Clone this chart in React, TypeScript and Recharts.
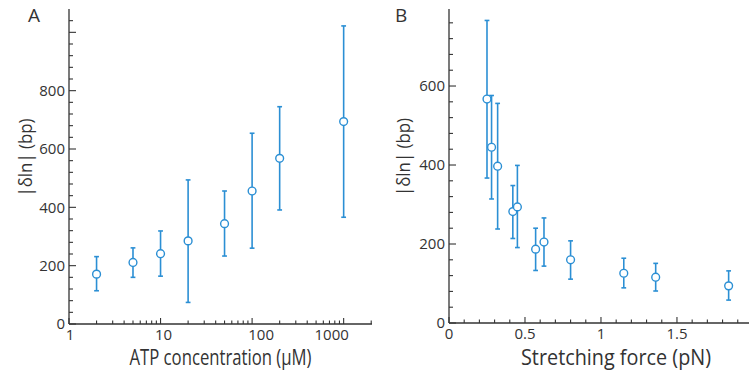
import { ErrorBar, Scatter, ScatterChart, XAxis, YAxis } from 'recharts'

// panel A: ATP concentration (µM) vs |δln| (bp)
const atpConc = [2, 5, 10, 20, 50, 100, 200, 1000]
const atpLen = [171, 211, 241, 285, 344, 456, 568, 694]
const atpHi = [231, 261, 319, 494, 456, 654, 745, 1022]
const atpLo = [114, 160, 164, 74, 233, 260, 391, 366]

// panel B: stretching force (pN) vs |δln| (bp)
const force = [0.25, 0.28, 0.32, 0.42, 0.45, 0.57, 0.625, 0.8, 1.15, 1.36, 1.84]
const forceLen = [567, 445, 397, 282, 294, 187, 205, 160, 126, 116, 94]
const forceHi = [766, 576, 556, 348, 399, 240, 266, 208, 164, 151, 132]
const forceLo = [367, 314, 238, 214, 191, 133, 144, 111, 89, 81, 58]

// ticks
const logTicks = [1, 2, 3, 4, 5, 6, 7, 8, 9, 10, 20, 30, 40, 50, 60, 70, 80, 90, 100, 200, 300, 400, 500, 600, 700, 800, 900, 1000, 2000]
const logMajor = [1, 10, 100, 1000]
const yTicksA = [0, 40, 80, 120, 160, 200, 240, 280, 320, 360, 400, 440, 480, 520, 560, 600, 640, 680, 720, 760, 800, 840, 880, 920, 960, 1000, 1040]
const yLabelsA = [0, 200, 400, 600, 800]
const yTicksB = [0, 40, 80, 120, 160, 200, 240, 280, 320, 360, 400, 440, 480, 520, 560, 600, 640, 680, 720, 760]
const yLabelsB = [0, 200, 400, 600]
const xTicksB = [0, 0.1, 0.2, 0.3, 0.4, 0.5, 0.6, 0.7, 0.8, 0.9, 1, 1.1, 1.2, 1.3, 1.4, 1.5, 1.6, 1.7, 1.8, 1.9]
const xLabelsB = [0, 0.5, 1, 1.5]

const dataA = atpConc.map((x, i) => ({ x, y: atpLen[i], err: [atpLen[i] - atpLo[i], atpHi[i] - atpLen[i]] }))
const dataB = force.map((x, i) => ({ x, y: forceLen[i], err: [forceLen[i] - forceLo[i], forceHi[i] - forceLen[i]] }))

const BLUE = '#2b8fd4'
const INK = '#333'
const FONT = '"Open Sans", sans-serif'

const near = (list: number[], v: number) => list.some((m) => Math.abs(m - v) < 1e-6)

// the log labels in the original sit a little off their ticks
const logNudge: Record<number, number> = { 1: 1, 10: 3, 100: 9, 1000: -12 }

// inward tick marks, labels outside
function bottomTick(major: number[], labels: number[], nudge: Record<number, number> = {}) {
  return (p: any) => {
    const v = p.payload.value
    const big = near(major, v)
    return (
      <g>
        <line x1={p.x} x2={p.x} y1={p.y} y2={p.y - (big ? 6 : 3.5)} stroke={INK} strokeWidth={1.1} />
        {near(labels, v) && (
          <text x={p.x + (nudge[v] || 0)} y={p.y + 11} dy="0.36em" textAnchor="middle" fill={INK} fontSize={15}>{String(v)}</text>
        )}
      </g>
    )
  }
}

function topTick(major: number[]) {
  return (p: any) => {
    const big = near(major, p.payload.value)
    return <line x1={p.x} x2={p.x} y1={p.y} y2={p.y + (big ? 6 : 3.5)} stroke={INK} strokeWidth={1.1} />
  }
}

function leftTick(major: number[], labels: number[]) {
  return (p: any) => {
    const v = p.payload.value
    const big = near(major, v)
    return (
      <g>
        <line x1={p.x} x2={p.x + (big ? 7 : 4)} y1={p.y} y2={p.y} stroke={INK} strokeWidth={1.1} />
        {near(labels, v) && (
          <text x={p.x - 4} y={p.y} dy="0.36em" textAnchor="end" fill={INK} fontSize={15}>{String(v)}</text>
        )}
      </g>
    )
  }
}

function rightTick(major: number[]) {
  return (p: any) => {
    const big = near(major, p.payload.value)
    return <line x1={p.x} x2={p.x - (big ? 7 : 4)} y1={p.y} y2={p.y} stroke={INK} strokeWidth={1.1} />
  }
}

// titles: Open Sans squeezed to the width of the original (narrower) face
function xTitle(text: string, length: number, dx = 0) {
  return (p: any) => {
    const vb = p.viewBox
    return (
      <text x={vb.x + vb.width / 2 + dx} y={vb.y + vb.height - 10} textAnchor="middle" fill={INK} fontSize={21}
        textLength={length} lengthAdjust="spacingAndGlyphs">{text}</text>
    )
  }
}

function yTitle(offset: number) {
  return (p: any) => {
    const vb = p.viewBox
    const cx = vb.x + offset
    const cy = vb.y + vb.height / 2 - 9
    return (
      <text x={cx} y={cy} transform={`rotate(-90 ${cx} ${cy})`} textAnchor="middle" dominantBaseline="central" fill={INK}
        fontSize={19} textLength={78} lengthAdjust="spacingAndGlyphs">|δln| (bp)</text>
    )
  }
}

const ring = (p: any) => <circle cx={p.cx} cy={p.cy} r={3.9} fill="#fff" stroke={BLUE} strokeWidth={1.4} />

const axisLine = { stroke: INK, strokeWidth: 1.3 }
const yMajor = [0, 200, 400, 600, 800, 1000]

function PanelA() {
  const domX: [number, number] = [1, 2040]
  const domY: [number, number] = [0, 1080]
  return (
    <ScatterChart width={375} height={375} margin={{ top: 9, right: 3, bottom: 0, left: 0 }}>
      <XAxis xAxisId="b" type="number" dataKey="x" scale="log" domain={domX} allowDataOverflow ticks={logTicks} interval={0}
        height={51} tickSize={0} tickMargin={0} tickLine={false} axisLine={axisLine} tick={bottomTick(logMajor, logMajor, logNudge)}
        label={xTitle('ATP concentration (µM)', 182)} />
      <XAxis xAxisId="t" type="number" orientation="top" scale="log" domain={domX} allowDataOverflow ticks={logTicks} interval={0}
        height={0} tickSize={0} tickMargin={0} tickLine={false} axisLine={axisLine} tick={topTick(logMajor)} />
      <YAxis yAxisId="l" type="number" dataKey="y" domain={domY} allowDataOverflow ticks={yTicksA} interval={0}
        width={69} tickSize={0} tickMargin={0} tickLine={false} axisLine={axisLine} tick={leftTick(yMajor, yLabelsA)}
        label={yTitle(25)} />
      <YAxis yAxisId="r" type="number" orientation="right" domain={domY} allowDataOverflow ticks={yTicksA} interval={0}
        width={0} tickSize={0} tickMargin={0} tickLine={false} axisLine={axisLine} tick={rightTick(yMajor)} />
      <Scatter xAxisId="b" yAxisId="l" data={dataA} shape={ring} isAnimationActive={false}>
        <ErrorBar dataKey="err" direction="y" width={2.4} stroke={BLUE} strokeWidth={1.6} isAnimationActive={false} />
      </Scatter>
    </ScatterChart>
  )
}

function PanelB() {
  const domX: [number, number] = [0, 1.974]
  const domY: [number, number] = [0, 795]
  return (
    <ScatterChart width={375} height={375} margin={{ top: 9, right: 1, bottom: 0, left: 0 }}>
      <XAxis xAxisId="b" type="number" dataKey="x" domain={domX} allowDataOverflow ticks={xTicksB} interval={0}
        height={52} tickSize={0} tickMargin={0} tickLine={false} axisLine={axisLine} tick={bottomTick(xLabelsB, xLabelsB)}
        label={xTitle('Stretching force (pN)', 190, 17)} />
      <XAxis xAxisId="t" type="number" orientation="top" domain={domX} allowDataOverflow ticks={xTicksB} interval={0}
        height={0} tickSize={0} tickMargin={0} tickLine={false} axisLine={axisLine} tick={topTick(xLabelsB)} />
      <YAxis yAxisId="l" type="number" dataKey="y" domain={domY} allowDataOverflow ticks={yTicksB} interval={0}
        width={74} tickSize={0} tickMargin={0} tickLine={false} axisLine={axisLine} tick={leftTick(yMajor, yLabelsB)}
        label={yTitle(28)} />
      <YAxis yAxisId="r" type="number" orientation="right" domain={domY} allowDataOverflow ticks={yTicksB} interval={0}
        width={0} tickSize={0} tickMargin={0} tickLine={false} axisLine={axisLine} tick={rightTick(yMajor)} />
      <Scatter xAxisId="b" yAxisId="l" data={dataB} shape={ring} isAnimationActive={false}>
        <ErrorBar dataKey="err" direction="y" width={2.4} stroke={BLUE} strokeWidth={1.6} isAnimationActive={false} />
      </Scatter>
    </ScatterChart>
  )
}

const letter = { position: 'absolute' as const, top: 1, fontSize: 19, color: INK, lineHeight: '28px' }

export default function App() {
  return (
    <div style={{ position: 'absolute', left: 0, top: 0, width: 750, height: 375, background: '#fff', fontFamily: FONT, overflow: 'hidden' }}>
      <div style={{ position: 'absolute', left: 0, top: 0 }}><PanelA /></div>
      <div style={{ position: 'absolute', left: 375, top: 0 }}><PanelB /></div>
      <div style={{ ...letter, left: 28 }}>A</div>
      <div style={{ ...letter, left: 395 }}>B</div>
    </div>
  )
}
